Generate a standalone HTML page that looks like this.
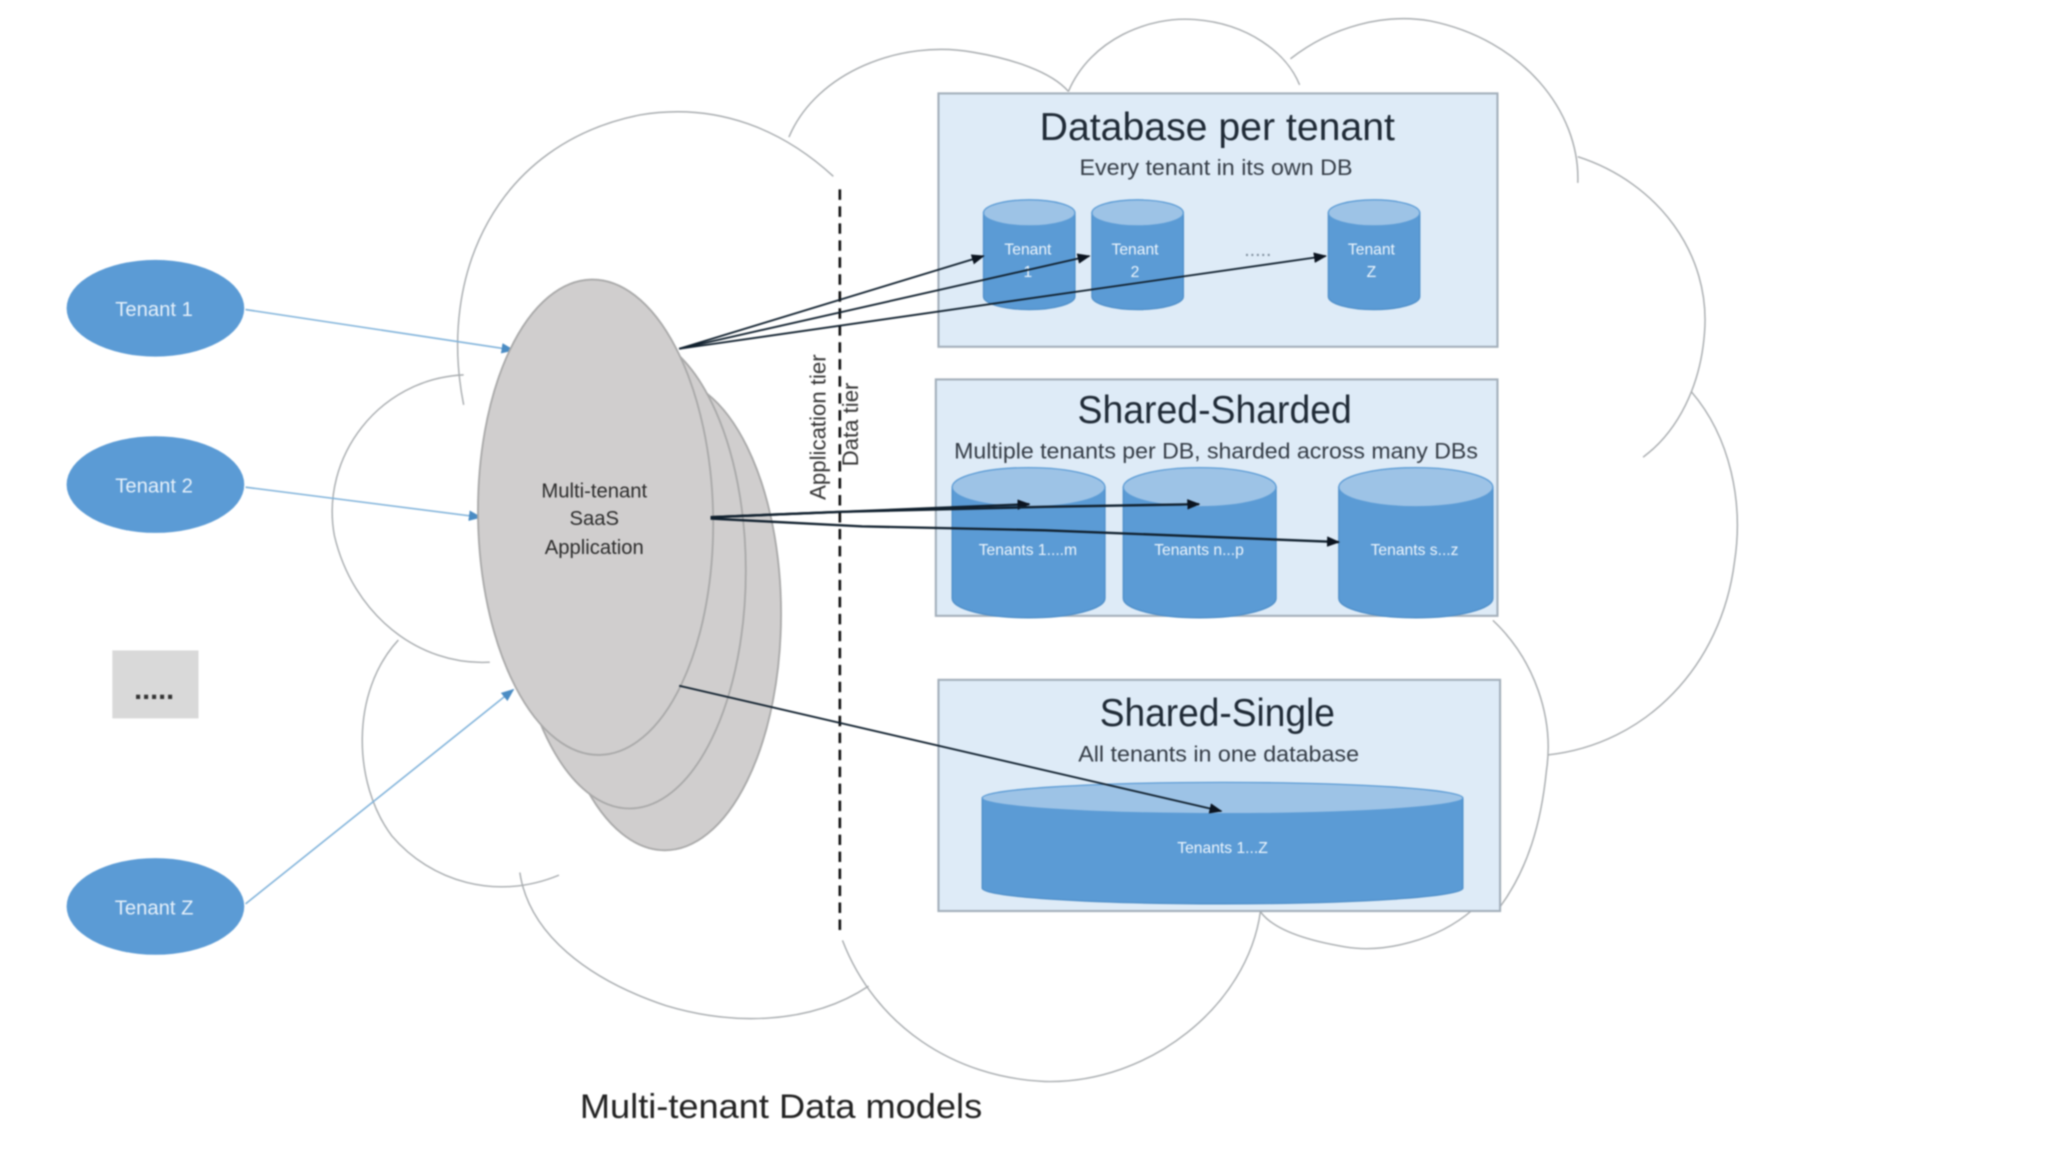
<!DOCTYPE html>
<html><head><meta charset="utf-8"><style>
html,body{margin:0;padding:0;background:#fff;width:2048px;height:1152px;overflow:hidden}
svg{display:block;filter:blur(.9px)}
text{font-family:"Liberation Sans",sans-serif}
.c{text-anchor:middle}
.w{fill:#eef6fd;font-size:12px;text-anchor:middle}
.t{fill:#1f2a36;font-size:30px}
.s{fill:#333b45;font-size:17px}
.body{fill:#5b9bd5;stroke:#4f8fc9;stroke-width:1}
.top{fill:#9dc3e6;stroke:#5b9bd5;stroke-width:1}
.r{fill:#deebf7;stroke:#a3afba;stroke-width:1.6}
.e{fill:#d0cece;stroke:#a9a9a9;stroke-width:1.4}
</style></head><body>
<svg xmlns="http://www.w3.org/2000/svg" width="2048" height="1152" viewBox="0 0 1568 882">
<defs>
<marker id="k" markerWidth="10" markerHeight="8" refX="9" refY="4" orient="auto" markerUnits="userSpaceOnUse"><path d="M0 0L10 4L0 8Z" fill="#0b1420"/></marker>
<marker id="b" markerWidth="10" markerHeight="8" refX="9" refY="4" orient="auto" markerUnits="userSpaceOnUse"><path d="M0 0L10 4L0 8Z" fill="#4a8cc4"/></marker>
</defs>
<rect width="1568" height="882" fill="#fff"/>

<!-- cloud -->
<g fill="none" stroke="#a8acaf" stroke-width="1.1">
<path d="M355 310C335 210 380 110 490 88C550 78 600 100 638 135"/>
<path d="M604 105C625 55 690 30 745 40C775 45 805 55 818 70"/>
<path d="M818 70C835 30 880 12 915 15C955 18 985 40 995 65"/>
<path d="M988 45C1020 20 1060 10 1095 16C1165 30 1210 85 1208 140"/>
<path d="M1208 120C1270 140 1310 195 1305 255C1302 295 1285 330 1258 350"/>
<path d="M1295 300C1325 335 1335 385 1328 430C1318 510 1260 570 1185 578"/>
<path d="M1143 475C1175 505 1190 550 1184 590C1180 630 1170 665 1148 695"/>
<path d="M1127 697C1100 720 1060 730 1030 725C1000 720 975 712 965 698"/>
<path d="M965 698C955 770 880 830 800 828C730 825 670 785 645 720"/>
<path d="M665 755C620 785 560 785 510 770C450 750 405 715 398 668"/>
<path d="M428 670C380 690 330 675 300 640C270 600 268 530 305 490"/>
<path d="M375 507C320 510 270 470 256 410C245 350 290 290 355 287"/>
</g>

<!-- tiers -->
<line x1="643" y1="145" x2="643" y2="712" stroke="#111" stroke-width="2" stroke-dasharray="8 5"/>
<text class="c" transform="translate(632,327) rotate(-90)" font-size="17" fill="#333">Application tier</text>
<text class="c" transform="translate(657,325) rotate(-90)" font-size="17" fill="#333">Data tier</text>

<!-- tenants -->
<g fill="#5b9bd5">
<ellipse cx="119" cy="236" rx="68" ry="37"/>
<ellipse cx="119" cy="371" rx="68" ry="37"/>
<ellipse cx="119" cy="694" rx="68" ry="37"/>
</g>
<g fill="#e6f1fb" font-size="15.5" text-anchor="middle">
<text x="118" y="242">Tenant 1</text>
<text x="118" y="377">Tenant 2</text>
<text x="118" y="700">Tenant Z</text>
</g>
<rect x="86" y="498" width="66" height="52" fill="#d9d9d9"/>
<text x="118" y="535" class="c" font-size="22" font-weight="bold" fill="#333">.....</text>

<g stroke="#7fb2da" stroke-width="1.2" fill="none">
<line x1="188" y1="237" x2="393" y2="268" marker-end="url(#b)"/>
<line x1="188" y1="373" x2="368" y2="396" marker-end="url(#b)"/>
<line x1="188" y1="692" x2="393" y2="528" marker-end="url(#b)"/>
</g>

<!-- app ellipses -->
<ellipse class="e" cx="509" cy="470" rx="89" ry="181"/>
<ellipse class="e" cx="482" cy="437" rx="89" ry="182"/>
<ellipse class="e" cx="456" cy="396" rx="90" ry="182" transform="rotate(-1 456 396)"/>
<g fill="#2b2b2b" font-size="15.5" text-anchor="middle">
<text x="455" y="381">Multi-tenant</text>
<text x="455" y="402">SaaS</text>
<text x="455" y="424">Application</text>
</g>

<!-- panels -->
<rect class="r" x="718.5" y="71.5" width="428" height="194"/>
<rect class="r" x="716.5" y="290.5" width="430" height="181"/>
<rect class="r" x="718.5" y="520.5" width="430" height="177"/>

<text class="c t" x="932" y="107" textLength="272" lengthAdjust="spacingAndGlyphs">Database per tenant</text>
<text class="c s" x="931" y="134" textLength="209" lengthAdjust="spacingAndGlyphs">Every tenant in its own DB</text>
<text class="c t" x="930" y="324" textLength="210" lengthAdjust="spacingAndGlyphs">Shared-Sharded</text>
<text class="c s" x="931" y="351" textLength="401" lengthAdjust="spacingAndGlyphs">Multiple tenants per DB, sharded across many DBs</text>
<text class="c t" x="932" y="556" textLength="180" lengthAdjust="spacingAndGlyphs">Shared-Single</text>
<text class="c s" x="933" y="583" textLength="215" lengthAdjust="spacingAndGlyphs">All tenants in one database</text>

<!-- cylinders R1 -->
<g>
<path class="body" d="M753 163V227A35 10 0 0 0 823 227V163Z"/><ellipse class="top" cx="788" cy="163" rx="35" ry="10"/>
<path class="body" d="M836 163V227A35 10 0 0 0 906 227V163Z"/><ellipse class="top" cx="871" cy="163" rx="35" ry="10"/>
<path class="body" d="M1017 163V227A35 10 0 0 0 1087 227V163Z"/><ellipse class="top" cx="1052" cy="163" rx="35" ry="10"/>
</g>
<text class="w" x="787" y="195">Tenant</text><text class="w" x="787" y="212">1</text>
<text class="w" x="869" y="195">Tenant</text><text class="w" x="869" y="212">2</text>
<text class="w" x="1050" y="195">Tenant</text><text class="w" x="1050" y="212">Z</text>
<text class="c" x="963" y="196" font-size="15" fill="#7a8a99">.....</text>

<!-- cylinders R2 -->
<g>
<path class="body" d="M729 373V458A58.500 15 0 0 0 846 458V373Z"/><ellipse class="top" cx="787.500" cy="373" rx="58.500" ry="15"/>
<path class="body" d="M860 373V458A58.500 15 0 0 0 977 458V373Z"/><ellipse class="top" cx="918.500" cy="373" rx="58.500" ry="15"/>
<path class="body" d="M1025 373V458A59 15 0 0 0 1143 458V373Z"/><ellipse class="top" cx="1084" cy="373" rx="59" ry="15"/>
</g>
<text class="w" x="787" y="425">Tenants 1....m</text>
<text class="w" x="918" y="425">Tenants n...p</text>
<text class="w" x="1083" y="425">Tenants s...z</text>

<!-- cylinder R3 -->
<path class="body" d="M752 611V680A184 12 0 0 0 1120 680V611Z"/><ellipse class="top" cx="936" cy="611" rx="184" ry="12"/>
<text class="w" x="936" y="653">Tenants 1...Z</text>

<!-- black connectors -->
<g stroke="#10202e" stroke-width="1.4" fill="none">
<line x1="520" y1="267" x2="753" y2="196" marker-end="url(#k)"/>
<line x1="520" y1="267" x2="834" y2="196" marker-end="url(#k)"/>
<line x1="520" y1="267" x2="1015" y2="196" marker-end="url(#k)"/>
<line x1="544" y1="396" x2="788" y2="386" stroke-width="1.800" marker-end="url(#k)"/>
<path d="M544 396L640 392L800 388L918 386" stroke-width="1.800" marker-end="url(#k)"/>
<path d="M544 397L660 403L800 406L1025 415" stroke-width="1.800" marker-end="url(#k)"/>
<line x1="520" y1="525" x2="935" y2="621" marker-end="url(#k)"/>
</g>

<text x="598" y="856" class="c" font-size="26" fill="#222" textLength="308" lengthAdjust="spacingAndGlyphs">Multi-tenant Data models</text>
</svg>
</body></html>
